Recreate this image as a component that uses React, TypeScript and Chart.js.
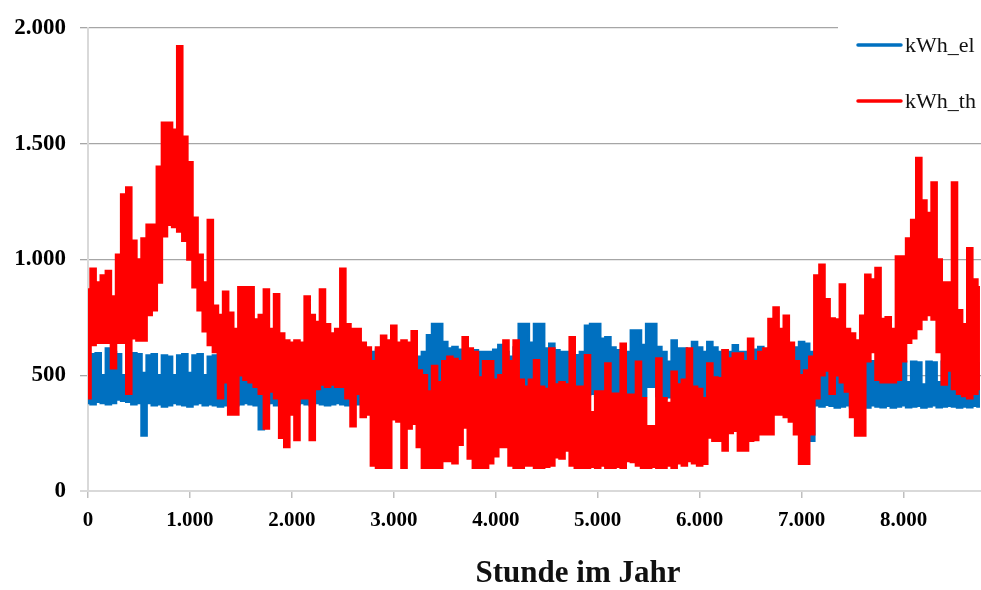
import React, { useEffect, useRef } from "react";
import { Chart, registerables } from "chart.js";

Chart.register(...registerables);

// hourly bins of 50 h; for each bin the highest and lowest value
const STEP = 50;
const seriesNames = ["kWh_el", "kWh_th"];
const xTickValues = [0, 1000, 2000, 3000, 4000, 5000, 6000, 7000, 8000];
const yTickValues = [0, 500, 1000, 1500, 2000];
const xTitle = "Stunde im Jahr";

const thMax = [
  870, 960, 900, 930, 950, 840, 1020, 1280, 1310, 1080,
  1000, 1090, 1150, 1150, 1400, 1590, 1590, 1560, 1920, 1530,
  1420, 1180, 1020, 900, 1170, 800, 760, 860, 770, 700,
  880, 880, 880, 740, 760, 870, 700, 850, 680, 650,
  640, 650, 640, 840, 760, 730, 870, 720, 680, 700,
  960, 720, 700, 700, 640, 620, 560, 620, 670, 650,
  714, 640, 650, 640, 690, 520, 500, 430, 540, 470,
  560, 580, 570, 560, 664, 615, 600, 490, 560, 560,
  480, 500, 650, 560, 650, 480, 450, 480, 565, 450,
  440, 615, 460, 470, 460, 664, 450, 450, 586, 340,
  430, 430, 551, 420, 420, 636, 416, 416, 558, 400,
  280, 280, 572, 400, 380, 515, 460, 480, 615, 450,
  440, 400, 551, 490, 487, 608, 572, 594, 594, 560,
  657, 560, 600, 615, 743, 792, 700, 757, 640, 560,
  500, 520, 580, 930, 977, 828, 745, 740, 892, 700,
  680, 650, 757, 934, 913, 963, 743, 750, 700, 1012,
  1012, 1090, 1170, 1438, 1254, 1200, 1332, 1000, 900, 900,
  1332, 780, 720, 1048, 913, 880,
];

const thMin = [
  400, 630, 640, 640, 640, 530, 640, 640, 420, 660,
  650, 650, 760, 780, 900, 1100, 1150, 1140, 1120, 1080,
  1000, 880, 780, 690, 630, 600, 400, 470, 330, 330,
  500, 480, 470, 450, 420, 270, 430, 400, 230, 190,
  330, 220, 400, 400, 220, 440, 460, 450, 460, 450,
  450, 400, 280, 420, 320, 330, 110, 100, 100, 100,
  310, 300, 100, 270, 290, 190, 100, 100, 100, 100,
  130, 130, 120, 200, 274, 140, 100, 100, 100, 120,
  150, 190, 190, 110, 100, 100, 110, 110, 100, 100,
  105, 110, 146, 140, 175, 110, 100, 100, 100, 105,
  100, 110, 100, 100, 105, 100, 130, 125, 110, 100,
  100, 105, 100, 100, 110, 100, 120, 110, 130, 120,
  110, 118, 231, 217, 217, 175, 250, 260, 175, 175,
  217, 220, 245, 245, 245, 330, 330, 320, 300, 245,
  118, 118, 245, 400, 500, 520, 420, 500, 470, 430,
  320, 240, 240, 560, 600, 480, 470, 470, 470, 480,
  560, 640, 660, 700, 740, 760, 740, 600, 460, 520,
  440, 420, 410, 400, 420, 440,
];

const elMax = [
  580, 590, 595, 500, 615, 600, 590, 500, 590, 595,
  590, 510, 585, 590, 500, 585, 580, 500, 585, 590,
  510, 585, 590, 500, 580, 585, 590, 500, 580, 575,
  590, 610, 580, 570, 560, 570, 580, 560, 575, 570,
  560, 570, 575, 560, 570, 570, 560, 575, 570, 565,
  570, 575, 565, 570, 580, 590, 600, 610, 610, 600,
  600, 620, 622, 600, 600, 580, 600, 672, 721, 721,
  643, 615, 622, 610, 600, 600, 608, 600, 600, 600,
  610, 630, 600, 580, 620, 721, 721, 640, 721, 721,
  615, 636, 608, 600, 600, 586, 586, 600, 714, 721,
  721, 657, 664, 620, 608, 608, 600, 693, 693, 630,
  721, 721, 622, 600, 558, 650, 615, 615, 610, 643,
  620, 600, 643, 620, 600, 608, 600, 629, 600, 600,
  590, 610, 622, 600, 590, 600, 590, 600, 610, 620,
  643, 636, 600, 560, 555, 560, 555, 560, 555, 555,
  560, 555, 560, 555, 560, 555, 560, 555, 560, 555,
  558, 470, 558, 555, 460, 558, 555, 470, 558, 555,
  560, 470, 555, 558, 555, 550,
];

const elMin = [
  380, 375, 385, 380, 375, 380, 395, 390, 385, 375,
  380, 240, 380, 370, 375, 365, 370, 380, 375, 370,
  365, 375, 380, 370, 375, 370, 365, 370, 375, 370,
  375, 380, 375, 370, 267, 375, 380, 370, 375, 380,
  370, 375, 380, 375, 370, 380, 375, 370, 375, 380,
  375, 370, 380, 375, 380, 390, 400, 410, 405, 400,
  410, 415, 405, 400, 410, 420, 415, 405, 410, 400,
  405, 415, 410, 400, 405, 410, 400, 405, 415, 410,
  400, 405, 410, 400, 405, 415, 420, 410, 405, 400,
  410, 405, 400, 410, 415, 405, 400, 410, 416, 420,
  410, 405, 400, 410, 405, 400, 410, 373, 405, 410,
  450, 450, 410, 400, 405, 410, 400, 405, 410, 400,
  405, 410, 400, 405, 410, 400, 405, 410, 400, 405,
  410, 400, 405, 410, 400, 405, 400, 410, 405, 400,
  395, 390, 217, 370, 365, 372, 368, 360, 365, 370,
  362, 368, 365, 360, 370, 365, 362, 368, 360, 365,
  370, 362, 365, 368, 360, 365, 370, 362, 365, 368,
  365, 360, 365, 362, 368, 365,
];

const BLUE = "#0070C0";
const RED = "#FF0000";
const FONT = '"Liberation Serif", "Times New Roman", serif';

function toPoints(arr: number[]) {
  return arr.map((v, i) => ({ x: i * STEP, y: v }));
}

function fmt(v: number): string {
  if (v >= 1000) {
    const t = Math.floor(v / 1000);
    const r = String(v % 1000).padStart(3, "0");
    return `${t}.${r}`;
  }
  return String(v);
}

const overlayPlugin = {
  id: "overlay",
  afterDraw(chart: any) {
    const ctx = chart.ctx as CanvasRenderingContext2D;
    ctx.save();
    ctx.fillStyle = "#ffffff";
    ctx.fillRect(838, 8, 143, 117);
    const entries = [
      { name: seriesNames[0], color: BLUE, y: 45 },
      { name: seriesNames[1], color: RED, y: 101 },
    ];
    entries.forEach((e) => {
      ctx.strokeStyle = e.color;
      ctx.lineWidth = 3.5;
      ctx.lineCap = "round";
      ctx.beginPath();
      ctx.moveTo(858, e.y);
      ctx.lineTo(901, e.y);
      ctx.stroke();
      ctx.fillStyle = "#111";
      ctx.font = `22px ${FONT}`;
      ctx.textAlign = "left";
      ctx.textBaseline = "middle";
      ctx.fillText(e.name, 905, e.y + 1);
    });
    ctx.fillStyle = "#111";
    ctx.font = `bold 31px ${FONT}`;
    ctx.textAlign = "center";
    ctx.textBaseline = "alphabetic";
    ctx.fillText(xTitle, 578, 582);
    ctx.restore();
  },
};

function band(label: string, arr: number[], color: string, order: number, fillNext: boolean) {
  return {
    label,
    data: toPoints(arr),
    borderColor: color,
    backgroundColor: color,
    borderWidth: 2.5,
    pointRadius: 0,
    borderJoinStyle: "miter",
    stepped: "middle",
    fill: fillNext ? "+1" : false,
    order,
  };
}

export default function App() {
  const canvasRef = useRef<HTMLCanvasElement | null>(null);

  useEffect(() => {
    if (!canvasRef.current) return;
    const chart = new Chart(canvasRef.current, {
      type: "line",
      data: {
        datasets: [
          band(seriesNames[1], thMax, RED, 1, true),
          band(seriesNames[1], thMin, RED, 1, false),
          band(seriesNames[0], elMax, BLUE, 2, true),
          band(seriesNames[0], elMin, BLUE, 2, false),
        ],
      },
      options: {
        responsive: false,
        animation: false,
        devicePixelRatio: 1,
        layout: { padding: { top: 22, left: 0, right: 0, bottom: 0 } },
        plugins: {
          legend: { display: false },
          tooltip: { enabled: false },
          filler: { propagate: false },
        },
        scales: {
          x: {
            type: "linear",
            min: 0,
            max: 8760,
            afterFit: (s: any) => {
              s.height = 99;
            },
            afterBuildTicks: (s: any) => {
              s.ticks = xTickValues.map((v) => ({ value: v }));
            },
            ticks: {
              autoSkip: false,
              maxRotation: 0,
              includeBounds: false,
              color: "#000",
              padding: 10,
              font: { family: FONT, size: 21, weight: "bold" },
              callback: (v: any) => fmt(Number(v)),
            },
            grid: {
              drawOnChartArea: false,
              tickLength: 7,
              color: "#bfbfbf",
              lineWidth: 1.5,
            },
            border: { color: "#d9d9d9", width: 2 },
          },
          y: {
            min: 0,
            max: 2000,
            afterFit: (s: any) => {
              s.width = 88;
            },
            afterBuildTicks: (s: any) => {
              s.ticks = yTickValues.map((v) => ({ value: v }));
            },
            ticks: {
              color: "#000",
              padding: 14,
              font: { family: FONT, size: 23, weight: "bold" },
              callback: (v: any) => fmt(Number(v)),
            },
            grid: {
              tickLength: 8,
              color: (c: any) => (c.tick && c.tick.value === 0 ? "#d9d9d9" : "#a6a6a6"),
              lineWidth: (c: any) => (c.tick && c.tick.value === 0 ? 2 : 1.3),
            },
            border: { color: "#d9d9d9", width: 2 },
          },
        },
      },
      plugins: [overlayPlugin],
    } as any);
    return () => chart.destroy();
  }, []);

  return (
    <div style={{ position: "absolute", left: 0, top: 0, width: 981, height: 590, background: "#fff" }}>
      <canvas ref={canvasRef} width={981} height={590} style={{ display: "block" }} />
    </div>
  );
}
